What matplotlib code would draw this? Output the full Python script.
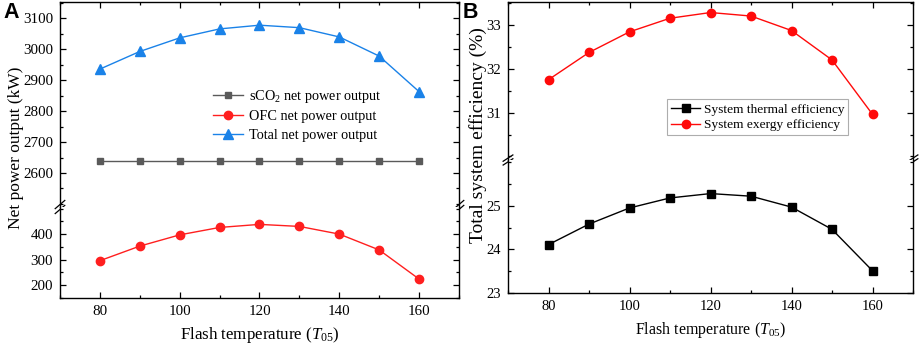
import matplotlib
matplotlib.use("Agg")
import matplotlib.pyplot as plt
from matplotlib.ticker import MultipleLocator

plt.rcParams['font.family'] = ['Liberation Serif', 'DejaVu Serif']
plt.rcParams['mathtext.fontset'] = 'custom'
plt.rcParams['mathtext.rm'] = 'Liberation Serif'
plt.rcParams['mathtext.it'] = 'Liberation Serif:italic'

# ---------------- data ----------------
flash_temp = [80, 90, 100, 110, 120, 130, 140, 150, 160]
sco2_power = [2640, 2640, 2640, 2640, 2640, 2640, 2640, 2640, 2640]
ofc_power = [296, 353, 397, 426, 438, 430, 400, 338, 224]
total_power = [2936, 2993, 3037, 3066, 3078, 3070, 3040, 2978, 2863]

thermal_eff = [24.11, 24.58, 24.95, 25.18, 25.28, 25.22, 24.97, 24.46, 23.51]
exergy_eff = [31.75, 32.37, 32.84, 33.15, 33.28, 33.20, 32.87, 32.20, 30.96]

x_ticks = [80, 100, 120, 140, 160]
xlabel = r"Flash temperature ($\mathit{T}_{\mathrm{05}}$)"

fig = plt.figure(figsize=(9.2, 3.47), dpi=100)

def fr(px_left, px_right, px_top, px_bottom):
    W, H = 920.0, 347.0
    return [px_left / W, 1 - px_bottom / H, (px_right - px_left) / W, (px_bottom - px_top) / H]

def style(ax, top_part, lsize):
    ax.set_xlim(70, 170)
    ax.xaxis.set_major_locator(MultipleLocator(20))
    ax.xaxis.set_minor_locator(MultipleLocator(10))
    ax.tick_params(which='both', direction='in', labelsize=lsize,
                   left=True, right=True, top=top_part, bottom=not top_part,
                   labelbottom=not top_part, width=0.9)
    ax.tick_params(which='major', length=4.5, pad=5)
    ax.tick_params(which='minor', length=2.5)
    for s in ax.spines.values():
        s.set_linewidth(1.0)
    if top_part:
        ax.spines['bottom'].set_visible(False)
    else:
        ax.spines['top'].set_visible(False)

def break_marks(ax):
    d = 0.012
    for xc in (0, 1):
        for off in (-0.012, 0.012):
            ax.plot([xc - d, xc + d], [off - 0.02, off + 0.02], transform=ax.transAxes,
                    color='black', lw=0.9, clip_on=False)

# ---------------- Panel A ----------------
axA_top = fig.add_axes(fr(60, 459, 2, 207))
axA_bot = fig.add_axes(fr(60, 459, 207, 298))

for ax in (axA_top, axA_bot):
    ax.plot(flash_temp, sco2_power, '-s', color='#5a5a5a', ms=5, lw=1.0,
            label=r"sCO$_2$ net power output")
    ax.plot(flash_temp, ofc_power, '-o', color='#ff1f1f', ms=6, lw=1.0,
            label="OFC net power output")
    ax.plot(flash_temp, total_power, '-^', color='#1a82e8', ms=6.5, lw=1.0,
            label="Total net power output")

axA_top.set_ylim(2490, 3153)
axA_top.set_yticks([2600, 2700, 2800, 2900, 3000, 3100])
axA_top.yaxis.set_minor_locator(MultipleLocator(50))
axA_bot.set_ylim(150, 506)
axA_bot.set_yticks([200, 300, 400])
axA_bot.yaxis.set_minor_locator(MultipleLocator(50))
style(axA_top, True, 10.8)
style(axA_bot, False, 10.8)
axA_bot.set_xticks(x_ticks)
break_marks(axA_top)

axA_top.legend(loc='upper left', bbox_to_anchor=(0.37, 0.61), frameon=False,
               fontsize=10.3, handlelength=2.1, labelspacing=0.38, handletextpad=0.4,
               borderaxespad=0)
axA_bot.set_xlabel(xlabel, fontsize=12.2, labelpad=5)
fig.text(0.017, 0.573, "Net power output (kW)", rotation=90, fontsize=12.5,
         ha='center', va='center')
fig.text(0.004, 0.963, "A", fontsize=15.5, fontweight='bold', family='Liberation Sans',
         ha='left', va='center')

# ---------------- Panel B ----------------
axB_top = fig.add_axes(fr(508, 913, 2, 160))
axB_bot = fig.add_axes(fr(508, 913, 160, 293))

for ax in (axB_top, axB_bot):
    ax.plot(flash_temp, thermal_eff, '-s', color='black', ms=5.5, lw=1.0,
            label="System thermal efficiency")
    ax.plot(flash_temp, exergy_eff, '-o', color='#ff0a0a', ms=6, lw=1.0,
            label="System exergy efficiency")

axB_top.set_ylim(29.92, 33.52)
axB_top.set_yticks([31, 32, 33])
axB_top.yaxis.set_minor_locator(MultipleLocator(0.5))
axB_bot.set_ylim(23, 26.05)
axB_bot.set_yticks([23, 24, 25])
axB_bot.yaxis.set_minor_locator(MultipleLocator(0.5))
style(axB_top, True, 10.5)
style(axB_bot, False, 10.5)
axB_bot.set_xticks(x_ticks)
break_marks(axB_top)

leg = axB_top.legend(loc='upper left', bbox_to_anchor=(0.393, 0.385), frameon=True,
                     fontsize=9.6, handlelength=2.2, labelspacing=0.25, handletextpad=0.25,
                     borderaxespad=0, fancybox=False, borderpad=0.3)
leg.get_frame().set_edgecolor('#999999')
leg.get_frame().set_linewidth(0.8)
axB_bot.set_xlabel(xlabel, fontsize=11.5, labelpad=5)
fig.text(0.52, 0.612, "Total system efficiency (%)", rotation=90, fontsize=14,
         ha='center', va='center')
fig.text(0.503, 0.963, "B", fontsize=15.5, fontweight='bold', family='Liberation Sans',
         ha='left', va='center')

fig.savefig("out.png", dpi=100)
